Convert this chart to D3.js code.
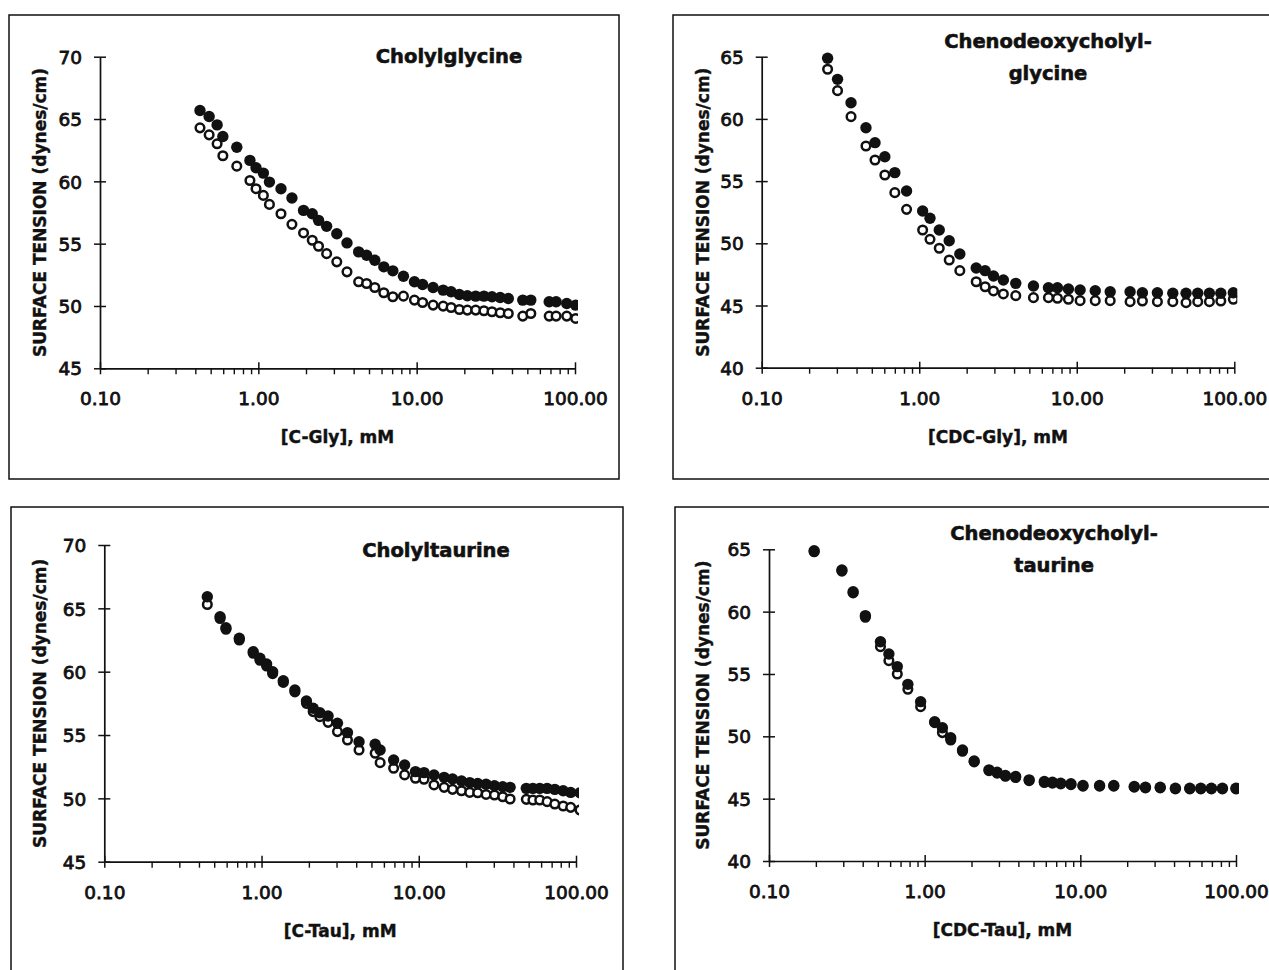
<!DOCTYPE html>
<html><head><meta charset="utf-8">
<script src="https://cdn.jsdelivr.net/npm/d3@7/dist/d3.min.js"></script>
<style>html,body{margin:0;padding:0;background:#fff;overflow:hidden}</style>
</head><body>
<svg id="chart" width="1269" height="970"></svg>
<script>
// ---------------- DATA ----------------
// Cholylglycine
const cGlyConc   = [0.428,0.489,0.549,0.597,0.731,0.885,0.967,1.076,1.175,1.39,1.63,1.93,2.19,2.40,2.70,3.13,3.63,4.30,4.83,5.44,6.2,7.07,8.25,9.68,10.9,12.7,14.7,16.5,18.6,20.9,23.6,26.6,29.9,33.7,37.9,46.8,52.6,68.7,76.0,88.7,101];
const cGlyFilled = [65.68,65.2,64.53,63.6,62.74,61.68,61.09,60.66,59.94,59.41,58.66,57.67,57.4,56.87,56.39,55.8,55.06,54.34,54.07,53.67,53.14,52.82,52.39,51.94,51.72,51.48,51.27,51.14,50.92,50.82,50.79,50.79,50.74,50.68,50.6,50.47,50.47,50.34,50.34,50.2,50.07];
const cGlyOpen   = [64.29,63.73,63.01,62.05,61.22,60.07,59.41,58.87,58.15,57.4,56.55,55.86,55.27,54.79,54.2,53.54,52.74,51.94,51.8,51.48,51.06,50.74,50.79,50.47,50.28,50.07,49.99,49.88,49.72,49.67,49.67,49.62,49.54,49.46,49.4,49.19,49.4,49.19,49.19,49.19,49.0];
// Chenodeoxycholylglycine
const cdcGlyConc   = [0.262,0.303,0.369,0.459,0.524,0.605,0.700,0.831,1.051,1.17,1.34,1.55,1.81,2.3,2.62,2.96,3.42,4.10,5.31,6.61,7.54,8.85,10.5,13.1,16.3,21.8,26.1,32.5,40.7,49.4,58.6,69.5,82.1,98.6];
const cdcGlyFilled = [64.87,63.18,61.3,59.29,58.09,56.96,55.68,54.2,52.6,52.01,51.07,50.21,49.14,48.02,47.8,47.37,47.05,46.78,46.57,46.43,46.43,46.33,46.25,46.19,46.11,46.11,46.03,46.03,45.98,45.98,45.98,45.98,45.98,46.03];
const cdcGlyOpen   = [63.99,62.27,60.18,57.82,56.7,55.49,54.07,52.73,51.07,50.32,49.6,48.66,47.8,46.91,46.51,46.17,45.93,45.79,45.63,45.63,45.58,45.5,45.39,45.39,45.39,45.31,45.36,45.31,45.31,45.23,45.31,45.31,45.36,45.5];
// Cholyltaurine
const cTauConc   = [0.452,0.545,0.594,0.722,0.885,0.977,1.077,1.177,1.375,1.63,1.93,2.13,2.35,2.65,3.04,3.52,4.17,5.28,5.68,6.92,8.13,9.53,10.8,12.5,14.5,16.4,18.7,21.1,23.7,26.8,30.3,34.2,38.1,48.3,53.2,58.8,65.5,73.3,82.9,92.5,106];
const cTauFilled = [65.92,64.34,63.47,62.64,61.58,61.06,60.61,60.0,59.29,58.55,57.69,57.11,56.76,56.5,55.93,55.19,54.47,54.27,53.82,53.03,52.64,52.11,52.03,51.84,51.66,51.53,51.37,51.24,51.18,51.11,51.0,50.92,50.87,50.79,50.79,50.79,50.79,50.71,50.6,50.47,50.44];
const cTauOpen   = [65.3,64.2,63.35,62.5,61.45,60.9,60.45,59.85,59.15,58.4,57.5,56.85,56.45,56.0,55.27,54.61,53.82,53.56,52.82,52.38,51.85,51.59,51.51,51.06,50.87,50.71,50.6,50.47,50.44,50.31,50.26,50.13,49.95,49.92,49.87,49.87,49.74,49.55,49.4,49.29,49.08];
// Chenodeoxycholyltaurine
const cdcTauConc   = [0.195,0.294,0.347,0.416,0.52,0.589,0.667,0.78,0.942,1.16,1.30,1.47,1.75,2.08,2.59,2.92,3.30,3.84,4.69,5.87,6.62,7.48,8.70,10.4,13.3,16.4,22.2,26.2,32.6,40.8,50.5,59.4,69.5,81.8,100];
const cdcTauFilled = [64.89,63.34,61.6,59.68,57.59,56.6,55.59,54.17,52.78,51.17,50.69,49.89,48.9,48.02,47.31,47.12,46.86,46.78,46.51,46.38,46.32,46.24,46.19,46.06,46.06,46.06,45.98,45.92,45.92,45.84,45.84,45.84,45.84,45.84,45.84];
const cdcTauOpen   = [64.8,63.25,61.5,59.55,57.19,56.07,55.0,53.77,52.38,51.1,50.3,49.7,48.8,47.95,47.25,47.05,46.8,46.7,46.45,46.3,46.25,46.18,46.12,46.0,46.0,46.0,45.92,45.86,45.86,45.78,45.78,45.78,45.78,45.78,45.78];

const xTickValues = [0.1, 1, 10, 100];
const xTickLabels = ["0.10", "1.00", "10.00", "100.00"];
const yTicksCholyl = [45, 50, 55, 60, 65, 70];
const yTicksCheno  = [40, 45, 50, 55, 60, 65];
const titles = [["Cholylglycine"], ["Chenodeoxycholyl-", "glycine"], ["Cholyltaurine"], ["Chenodeoxycholyl-", "taurine"]];
const xTitles = ["[C-Gly], mM", "[CDC-Gly], mM", "[C-Tau], mM", "[CDC-Tau], mM"];
const yTitle = "SURFACE TENSION (dynes/cm)";

// ---------------- LAYOUT ----------------
const panels = [
  {conc: cGlyConc, filled: cGlyFilled, open: cGlyOpen, yTicks: yTicksCholyl,
   frame: [9, 15, 619, 479], xr: [100, 575], yr: [368.3, 56.7], yTitleX: 40, titleX: 449, titleY: [63]},
  {conc: cdcGlyConc, filled: cdcGlyFilled, open: cdcGlyOpen, yTicks: yTicksCheno,
   frame: [673, 15, 1290, 479], xr: [761.7, 1234.3], yr: [367.7, 56.7], yTitleX: 703, titleX: 1048, titleY: [48, 80]},
  {conc: cTauConc, filled: cTauFilled, open: cTauOpen, yTicks: yTicksCholyl,
   frame: [11, 507, 623, 990], xr: [104.3, 576], yr: [861.7, 545], yTitleX: 40, titleX: 436, titleY: [557]},
  {conc: cdcTauConc, filled: cdcTauFilled, open: cdcTauOpen, yTicks: yTicksCheno,
   frame: [675, 507, 1290, 990], xr: [769, 1236], yr: [861, 549.3], yTitleX: 703, titleX: 1054, titleY: [540, 572]}
];

const ink = "#111";
const svg = d3.select("#chart");
svg.append("rect").attr("width", 1269).attr("height", 970).attr("fill", "#fff");

panels.forEach((p, i) => {
  const g = svg.append("g");
  const f = p.frame;
  g.append("rect").attr("x", f[0]).attr("y", f[1]).attr("width", f[2] - f[0]).attr("height", f[3] - f[1])
    .attr("fill", "none").attr("stroke", ink).attr("stroke-width", 1.5);

  const x = d3.scaleLog().domain([0.1, 100]).range(p.xr);
  const y = d3.scaleLinear().domain([p.yTicks[0], p.yTicks[p.yTicks.length - 1]]).range(p.yr);

  // minor x ticks
  const minor = [];
  [0.1, 1, 10].forEach(d => { for (let k = 2; k <= 9; k++) minor.push(d * k); });
  g.append("g").attr("transform", `translate(0,${p.yr[0]})`)
    .call(d3.axisBottom(x).tickValues(minor).tickSize(6).tickSizeOuter(0).tickFormat(""))
    .call(a => a.select(".domain").remove())
    .call(a => a.selectAll(".tick line").attr("stroke", ink).attr("stroke-width", 1.4));

  // major x axis
  const xa = g.append("g").attr("transform", `translate(0,${p.yr[0]})`)
    .call(d3.axisBottom(x).tickValues(xTickValues).tickSize(6).tickSizeOuter(0)
      .tickFormat((d, j) => xTickLabels[j]));
  xa.select(".domain").attr("stroke", ink).attr("stroke-width", 1.7);
  xa.selectAll(".tick line").attr("y1", -6).attr("y2", 6).attr("stroke", ink).attr("stroke-width", 1.5);
  xa.selectAll(".tick text").attr("y", 37).attr("dy", 0)
    .attr("font-family", "DejaVu Sans").attr("font-size", 18.5).attr("fill", ink)
    .attr("stroke", ink).attr("stroke-width", 0.8);

  // y axis
  const ya = g.append("g").attr("transform", `translate(${p.xr[0]},0)`)
    .call(d3.axisLeft(y).tickValues(p.yTicks).tickSize(6).tickSizeOuter(0));
  ya.select(".domain").attr("stroke", ink).attr("stroke-width", 1.7);
  ya.selectAll(".tick line").attr("x1", 6).attr("stroke", ink).attr("stroke-width", 1.5);
  ya.selectAll(".tick text").attr("x", -18).attr("dy", "0.36em")
    .attr("font-family", "DejaVu Sans").attr("font-size", 18.5).attr("fill", ink)
    .attr("stroke", ink).attr("stroke-width", 0.8);

  // axis titles
  g.append("text").attr("x", (p.xr[0] + p.xr[1]) / 2).attr("y", p.yr[0] + 75)
    .attr("text-anchor", "middle").attr("font-family", "DejaVu Sans").attr("font-weight", "bold")
    .attr("font-size", 17).attr("fill", ink).attr("stroke", ink).attr("stroke-width", 0.4).text(xTitles[i]);
  const yc = (p.yr[0] + p.yr[1]) / 2;
  g.append("text").attr("transform", `translate(${p.yTitleX + 6},${yc}) rotate(-90)`)
    .attr("text-anchor", "middle").attr("font-family", "DejaVu Sans").attr("font-weight", "bold")
    .attr("font-size", 17).attr("fill", ink).attr("stroke", ink).attr("stroke-width", 0.4).text(yTitle);

  // panel title
  titles[i].forEach((t, k) => {
    g.append("text").attr("x", p.titleX).attr("y", p.titleY[k]).attr("text-anchor", "middle")
      .attr("font-family", "DejaVu Sans").attr("font-weight", "bold").attr("font-size", 19.5)
      .attr("fill", ink).attr("stroke", ink).attr("stroke-width", 0.6).text(t);
  });

  // data
  const cid = "clip" + i;
  svg.append("clipPath").attr("id", cid).append("rect")
    .attr("x", f[0]).attr("y", f[1]).attr("width", p.xr[1] + 3 - f[0]).attr("height", p.yr[0] - f[1]);
  const dg = g.append("g").attr("clip-path", `url(#${cid})`);
  const openPts = p.conc.map((c, j) => ({c, v: p.open[j]}));
  const fillPts = p.conc.map((c, j) => ({c, v: p.filled[j]}));
  dg.selectAll("circle.o").data(openPts).join("circle").attr("class", "o")
    .attr("cx", d => x(d.c)).attr("cy", d => y(d.v)).attr("r", 4.3)
    .attr("fill", "#fff").attr("stroke", ink).attr("stroke-width", 2.5);
  dg.selectAll("circle.f").data(fillPts).join("circle").attr("class", "f")
    .attr("cx", d => x(d.c)).attr("cy", d => y(d.v)).attr("r", 5.7)
    .attr("fill", ink);
});
</script>
</body></html>
